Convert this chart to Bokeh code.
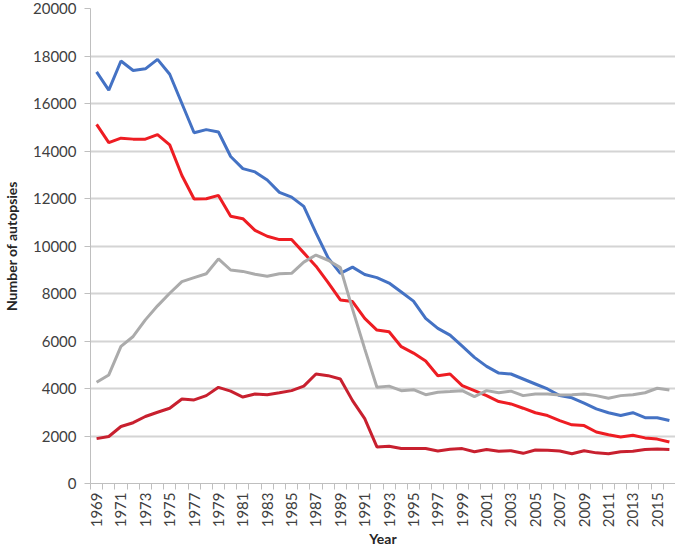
import math
from bokeh.plotting import figure
from bokeh.models import FixedTicker, Range1d, ColumnDataSource
from bokeh.embed import file_html
from bokeh.resources import INLINE

years = list(range(1969, 2017))

blue = [17330, 16560, 17790, 17390, 17460, 17860, 17230, 16000, 14770, 14900,
        14800, 13770, 13260, 13120, 12780, 12260, 12060, 11670, 10550, 9500,
        8850, 9110, 8800, 8670, 8440, 8060, 7680, 6950, 6530, 6250,
        5780, 5310, 4930, 4650, 4610, 4400, 4190, 3980, 3700, 3610,
        3380, 3140, 2980, 2860, 2980, 2770, 2770, 2650]

red = [15120, 14350, 14540, 14500, 14500, 14690, 14260, 12970, 11980, 11990,
       12130, 11250, 11150, 10660, 10410, 10270, 10270, 9710, 9150, 8460,
       7730, 7660, 6950, 6460, 6390, 5760, 5490, 5160, 4540, 4610,
       4120, 3910, 3700, 3450, 3350, 3170, 2980, 2860, 2650, 2470,
       2440, 2170, 2050, 1960, 2030, 1920, 1870, 1750]

gray = [4260, 4570, 5770, 6190, 6890, 7480, 8010, 8500, 8670, 8830,
        9460, 8990, 8930, 8810, 8730, 8830, 8850, 9320, 9620, 9400,
        9090, 7340, 5670, 4050, 4100, 3910, 3950, 3740, 3840, 3870,
        3910, 3660, 3910, 3820, 3890, 3700, 3770, 3770, 3730, 3740,
        3770, 3700, 3590, 3700, 3740, 3820, 4010, 3940]

darkred = [1890, 1980, 2400, 2560, 2820, 3000, 3170, 3560, 3520, 3700,
           4050, 3890, 3640, 3770, 3740, 3820, 3910, 4100, 4610, 4540,
           4400, 3490, 2730, 1540, 1570, 1470, 1470, 1470, 1370, 1440,
           1470, 1340, 1430, 1360, 1380, 1270, 1410, 1400, 1370, 1250,
           1380, 1290, 1250, 1340, 1360, 1430, 1450, 1430]

y_ticks = list(range(0, 20001, 2000))
x_tick_years = list(range(1969, 2016, 2))

FONT = "Lato"
TXT = "#404040"

p = figure(width=675, height=550, output_backend="svg", toolbar_location=None,
           x_range=Range1d(1968.5, 2016.5), y_range=Range1d(0, 20000),
           min_border_left=20, min_border_right=0, min_border_top=8,
           min_border_bottom=0, min_border=0)
p.outline_line_color = None
p.background_fill_color = "white"

src = ColumnDataSource(dict(year=years, blue=blue, red=red, gray=gray, darkred=darkred))
p.line("year", "blue", source=src, line_color="#4472C4", line_width=3)
p.line("year", "red", source=src, line_color="#EE1D23", line_width=3)
p.line("year", "gray", source=src, line_color="#ABABAB", line_width=3)
p.line("year", "darkred", source=src, line_color="#C8202F", line_width=3)

# x axis
xa = p.xaxis[0]
xa.ticker = FixedTicker(ticks=x_tick_years, minor_ticks=[y - 0.5 for y in range(1969, 2018)])
xa.major_label_orientation = math.pi / 2
xa.major_label_text_font = FONT
xa.major_label_text_font_size = "15px"
xa.major_label_text_color = TXT
xa.major_tick_line_color = None
xa.major_tick_out = 0
xa.major_tick_in = 0
xa.minor_tick_line_color = "#BFBFBF"
xa.minor_tick_out = 6
xa.minor_tick_in = 0
xa.axis_line_color = "#BFBFBF"
xa.axis_label = "Year"
xa.axis_label_text_font = FONT
xa.axis_label_text_font_style = "bold"
xa.axis_label_text_font_size = "14px"
xa.axis_label_text_color = "#262626"
xa.axis_label_standoff = 0
xa.major_label_standoff = 3

# y axis
ya = p.yaxis[0]
ya.ticker = FixedTicker(ticks=y_ticks)
ya.major_label_text_font = FONT
ya.major_label_text_font_size = "15px"
ya.major_label_text_color = TXT
ya.major_tick_line_color = "#BFBFBF"
ya.major_tick_out = 6
ya.major_tick_in = 0
ya.minor_tick_line_color = None
ya.axis_line_color = "#BFBFBF"
ya.axis_label = "Number of autopsies"
ya.axis_label_text_font = FONT
ya.axis_label_text_font_style = "bold"
ya.axis_label_text_font_size = "14px"
ya.axis_label_text_color = "#262626"
ya.axis_label_standoff = 10
ya.major_label_standoff = 8

p.xgrid.grid_line_color = None
p.ygrid.grid_line_color = "#D4D4D4"
p.ygrid.grid_line_width = 2

open("out.html", "w").write(file_html(p, INLINE))
